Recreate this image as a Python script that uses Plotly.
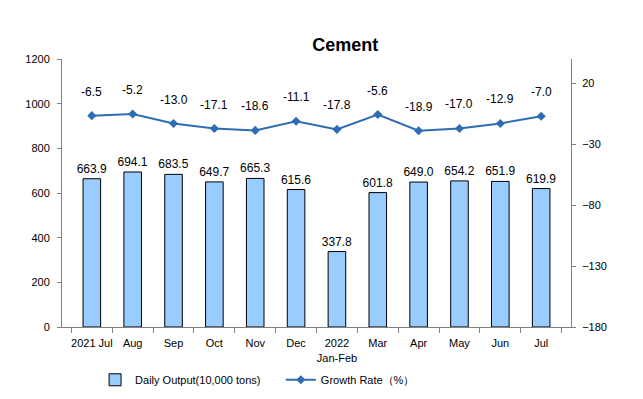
import plotly.graph_objects as go

categories = ["2021 Jul", "Aug", "Sep", "Oct", "Nov", "Dec", "2022<br>Jan-Feb",
              "Mar", "Apr", "May", "Jun", "Jul"]
daily_output = [663.9, 694.1, 683.5, 649.7, 665.3, 615.6, 337.8,
                601.8, 649.0, 654.2, 651.9, 619.9]
growth_rate = [-6.5, -5.2, -13.0, -17.1, -18.6, -11.1, -17.8,
               -5.6, -18.9, -17.0, -12.9, -7.0]

FONT = "Liberation Sans, Arial, sans-serif"

fig = go.Figure()
fig.add_trace(go.Bar(
    x=categories, y=daily_output, name="Daily Output(10,000 tons)",
    marker=dict(color="#99CCFF", line=dict(color="black", width=1)),
    width=0.43,
    text=[f"{v:.1f}" for v in daily_output], textposition="outside",
    constraintext="none",
    textfont=dict(size=12, color="black", family=FONT),
    cliponaxis=False, legend="legend",
))
fig.add_trace(go.Scatter(
    x=categories, y=growth_rate, yaxis="y2", name="Growth Rate（%）",
    mode="lines+markers",
    line=dict(color="#2E6DB4", width=2),
    marker=dict(symbol="diamond", size=7, color="#2E6DB4"),
    legend="legend2",
))

for c, v in zip(categories, growth_rate):
    fig.add_annotation(x=c, y=v, yref="y2", text=f"{v:.1f}", showarrow=False,
                       yshift=24, font=dict(size=12, color="black", family=FONT))

leg_common = dict(orientation="h", yanchor="middle", y=-0.197,
                  font=dict(size=11, family=FONT), bgcolor="rgba(0,0,0,0)")

fig.update_layout(
    width=635, height=391,
    margin=dict(l=54, r=72, t=51, b=72, autoexpand=False),
    paper_bgcolor="white", plot_bgcolor="white",
    font=dict(family=FONT, size=11, color="black"),
    title=dict(text="<b>Cement</b>", x=0.531, xanchor="center", y=0.905, yanchor="middle",
               font=dict(size=18, family=FONT, color="black")),
    showlegend=True,
    legend=dict(x=0.065, xanchor="left", **leg_common),
    legend2=dict(x=0.43, xanchor="left", **leg_common),
    xaxis=dict(showline=True, linecolor="#808080", linewidth=1,
               ticks="outside", ticklen=5, tickcolor="#808080",
               tickson="boundaries", tickangle=0, automargin=False,
               ticklabelstandoff=6, tickfont=dict(size=11)),
    yaxis=dict(range=[0, 1200], dtick=200, showline=True, linecolor="#808080",
               linewidth=1, ticks="outside", ticklen=4, tickcolor="#808080",
               showgrid=False, zeroline=False, automargin=False,
               ticklabelstandoff=5, tickfont=dict(size=11)),
    yaxis2=dict(range=[-180, 40], tickvals=[20, -30, -80, -130, -180],
                overlaying="y", side="right", showline=True, linecolor="#808080",
                linewidth=1, ticks="outside", ticklen=4, tickcolor="#808080",
                showgrid=False, zeroline=False, automargin=False,
                ticklabelstandoff=4, tickfont=dict(size=11)),
)

fig.write_html("out.html")
